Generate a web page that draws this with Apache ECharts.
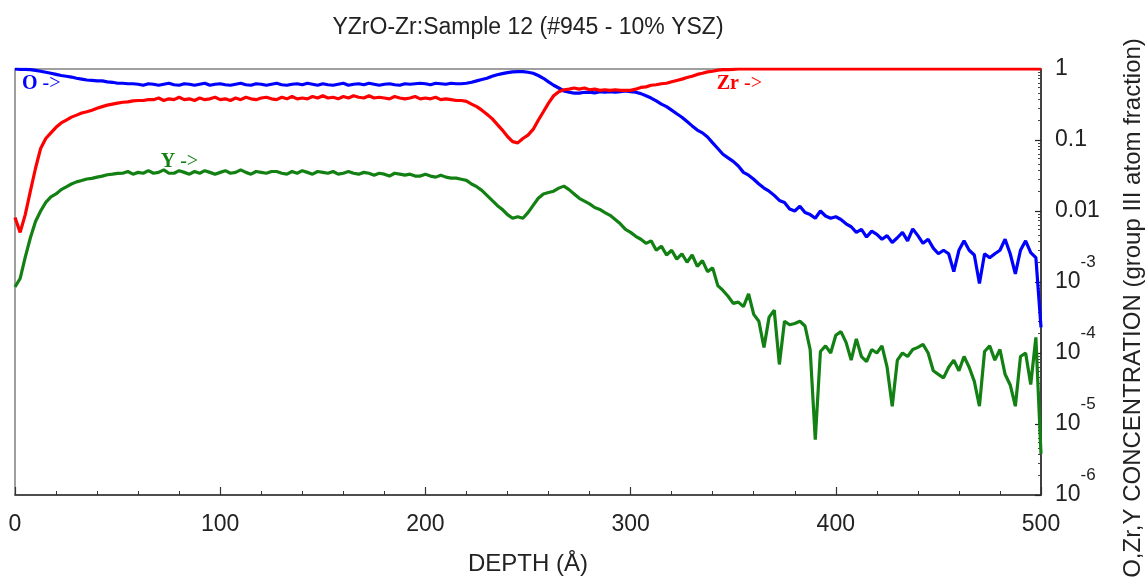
<!DOCTYPE html>
<html>
<head>
<meta charset="utf-8">
<script src="https://cdn.jsdelivr.net/npm/echarts@6/dist/echarts.min.js"></script>
<style>
html,body{margin:0;padding:0;background:#fff;}
#chart{width:1146px;height:582px;}
</style>
</head>
<body>
<div id="chart"></div>
<script>
// ---- data (depth grid: 0..500 Å every 2.5 Å) ----
const depthStep = 2.5;
const xTicks = [0, 100, 200, 300, 400, 500];
const titleText = 'YZrO-Zr:Sample 12 (#945 - 10% YSZ)';
const xName = 'DEPTH (\u00C5)';
const yName = 'O,Zr,Y CONCENTRATION (group III atom fraction)';

// O atom fraction
const oValues = [
1.0,0.99,0.99,0.98,0.955,0.93,0.90,0.87,0.84,0.81,0.79,0.77,0.74,0.72,0.70,0.69,0.68,0.68,0.66,0.65,0.63,0.63,0.62,0.62,
0.61,0.59,0.62,0.61,0.59,0.61,0.63,0.60,
0.59,0.62,0.61,0.59,0.61,0.63,0.59,0.61,
0.62,0.60,0.59,0.61,0.63,0.60,0.59,0.62,
0.61,0.59,0.61,0.63,0.60,0.59,0.61,0.62,
0.60,0.63,0.61,0.59,0.62,0.60,0.59,0.61,
0.63,0.59,0.61,0.62,0.60,0.63,0.61,0.59,
0.61,0.62,0.60,0.59,0.62,0.61,0.62,0.63,
0.62,0.60,0.63,0.62,0.61,0.63,0.62,0.62,
0.63,0.65,0.68,0.71,0.74,0.79,0.83,0.86,0.89,0.91,
0.92,0.92,0.90,0.87,0.81,0.74,0.66,0.59,0.54,0.49,
0.47,0.457,0.457,0.47,0.47,0.46,0.48,0.47,0.48,0.47,
0.48,0.49,0.48,0.47,0.45,0.42,0.39,0.355,0.32,0.295,
0.263,0.234,0.209,0.182,0.158,0.138,0.126,0.11,0.091,0.076,
0.063,0.056,0.050,0.043,0.035,0.032,0.028,0.024,0.021,0.019,
0.0166,0.0141,0.0132,0.0107,0.0100,0.0117,0.0095,0.0089,0.0079,0.0100,
0.0085,0.0079,0.0083,0.0076,0.0066,0.0060,0.0050,0.0055,0.0043,0.0052,
0.0047,0.0040,0.0045,0.0036,0.0042,0.0050,0.0038,0.0056,0.0045,0.0035,
0.0040,0.0030,0.0025,0.0028,0.0025,0.0014,0.0028,0.0038,0.0028,0.0024,
0.00095,0.0025,0.0022,0.0025,0.0028,0.0040,0.0025,0.0013,0.0028,0.0038,
0.0026,0.0022,0.00023
];

// Zr atom fraction
const zrValues = [
0.0081,0.0050,0.0089,0.019,0.040,0.076,0.105,0.126,0.151,0.174,
0.19,0.21,0.224,0.24,0.25,0.263,0.28,0.295,0.31,0.32,
0.33,0.34,0.345,0.355,0.36,0.36,0.37,
0.37,0.39,0.36,0.38,0.37,0.40,0.37,0.38,0.36,0.39,
0.37,0.38,0.40,0.37,0.38,0.36,0.39,0.37,0.40,0.38,
0.37,0.39,0.40,0.38,0.37,0.40,0.38,0.41,0.38,0.39,
0.38,0.41,0.39,0.42,0.39,0.40,0.38,0.41,0.39,0.42,
0.40,0.39,0.42,0.39,0.40,0.39,0.38,0.41,0.39,0.38,
0.39,0.41,0.38,0.39,0.38,0.40,0.37,0.38,0.37,0.36,
0.36,0.35,0.32,0.295,0.263,0.23,0.2,0.166,0.138,0.112,
0.095,0.091,0.105,0.117,0.141,0.19,0.25,0.33,0.42,0.48,
0.51,0.52,0.54,0.52,0.54,0.51,0.52,0.50,0.51,0.50,
0.51,0.50,0.50,0.50,0.52,0.55,0.56,0.59,0.60,0.62,
0.63,0.66,0.69,0.72,0.76,0.79,0.84,0.87,0.91,0.93,
0.965,0.98,0.98,0.99,1.0,
1,1,1,1,1,1,1,1,1,1,
1,1,1,1,1,1,1,1,1,1,
1,1,1,1,1,1,1,1,1,1,
1,1,1,1,1,1,1,1,1,1,
1,1,1,1,1,1,1,1,1,1,
1,1,1,1,1,1,1,1,1
];

// Y atom fraction
const yValues = [
0.00085,0.00112,0.00224,0.0042,0.0071,0.0100,0.0132,0.0158,0.0174,0.020,
0.0219,0.024,0.0257,0.0269,0.0282,0.0288,0.030,0.031,0.0324,0.0331,0.0339,
0.034,0.036,0.033,0.035,0.034,0.037,0.034,0.035,0.038,0.034,
0.034,0.037,0.035,0.033,0.036,0.034,0.037,0.035,0.033,0.035,
0.037,0.034,0.035,0.038,0.035,0.033,0.036,0.035,0.034,0.036,
0.036,0.034,0.033,0.036,0.034,0.037,0.035,0.033,0.036,0.035,
0.034,0.036,0.033,0.034,0.036,0.034,0.033,0.035,0.034,0.032,
0.034,0.033,0.031,0.034,0.033,0.032,0.033,0.031,0.031,0.033,
0.031,0.030,0.032,0.030,0.029,0.029,
0.028,0.027,0.024,0.022,0.0195,0.0166,0.0141,0.012,0.0105,0.0089,
0.0079,0.0083,0.0079,0.0095,0.012,0.0151,0.0174,0.0182,0.019,0.021,
0.0224,0.020,0.0174,0.0151,0.0138,0.0126,0.0112,0.0105,0.0095,0.0087,
0.0076,0.0066,0.0055,0.0050,0.0044,0.0040,0.0035,0.0038,0.0028,0.0032,
0.0024,0.0028,0.0021,0.0025,0.0019,0.0024,0.00166,0.0020,0.0014,0.00158,
0.00089,0.00076,0.00063,0.0005,0.00052,0.00045,0.00068,0.00035,0.00028,0.00012,
0.00032,0.0004,0.000069,0.00028,0.00025,0.00026,0.00028,0.00024,0.000112,0.000006,
0.000105,0.000126,0.0001,0.000178,0.0002,0.000141,0.0000794,0.000158,0.0000891,0.0000759,
0.000112,0.0001,0.000126,0.000063,0.0000178,0.0000794,0.0001,0.0000891,0.000112,0.00012,
0.000132,0.0001,0.0000562,0.0000501,0.0000447,0.000063,0.0000794,0.0000562,0.0000891,0.000063,
0.0000398,0.0000178,0.000105,0.000126,0.0000794,0.000112,0.0000501,0.0000355,0.0000178,0.0000891,
0.0001,0.000036,0.000166,0.0000038
];

// in-plot element labels: [text, depth, fraction]
const elementLabels = {
  O:  ['O', 3.4, 0.625],
  Zr: ['Zr', 342, 0.615],
  Y:  ['Y', 71, 0.05]
};

const colors = { O: '#0000ff', Zr: '#ff0000', Y: '#128012' };

function toPairs(vals) {
  return vals.map((v, i) => [i * depthStep, v]);
}

const FONT = '"Liberation Sans", Arial, sans-serif';
const SERIF = '"Liberation Serif", "Times New Roman", serif';

function labelMark(key) {
  const l = elementLabels[key];
  return {
    silent: true,
    symbol: 'circle',
    symbolSize: 0,
    animation: false,
    data: [{ coord: [l[1], l[2]] }],
    label: {
      show: true,
      position: 'right',
      distance: 0,
      formatter: '{b|' + l[0] + '}{n| ->}',
      rich: {
        b: { fontFamily: SERIF, fontWeight: 'bold', fontSize: 20, color: colors[key] },
        n: { fontFamily: SERIF, fontSize: 20, color: colors[key] }
      }
    }
  };
}

function makeSeries(name, vals) {
  return {
    name: name,
    type: 'line',
    data: toPairs(vals),
    showSymbol: false,
    symbol: 'none',
    smooth: false,
    animation: false,
    lineStyle: { color: colors[name], width: 3.2 },
    itemStyle: { color: colors[name] },
    markPoint: labelMark(name),
    z: 3
  };
}

const chart = echarts.init(document.getElementById('chart'), null, { renderer: 'canvas' });

const gridL = 15, gridR = 105, gridT = 69, gridB = 87;

chart.setOption({
  animation: false,
  backgroundColor: '#fff',
  textStyle: { fontFamily: FONT },
  grid: {
    left: gridL, right: gridR, top: gridT, bottom: gridB,
    show: true, borderColor: '#808080', borderWidth: 1.5,
    containLabel: false, outerBoundsMode: 'none'
  },
  graphic: [
    {
      type: 'text', x: (gridL + 1146 - gridR) / 2, y: 28, silent: true,
      style: { text: titleText, font: '23px ' + FONT, fill: '#222', align: 'center', verticalAlign: 'middle', textAlign: 'center', textVerticalAlign: 'middle' }
    },
    {
      type: 'text', x: 1133, y: 308, rotation: Math.PI / 2, silent: true,
      style: { text: yName, font: '24px ' + FONT, fill: '#222', align: 'center', verticalAlign: 'middle', textAlign: 'center', textVerticalAlign: 'middle' }
    }
  ],
  xAxis: {
    type: 'value',
    min: xTicks[0], max: xTicks[xTicks.length - 1], interval: xTicks[1] - xTicks[0],
    position: 'bottom',
    name: xName, nameLocation: 'middle', nameGap: 57,
    nameTextStyle: { fontSize: 24, color: '#222', fontFamily: FONT },
    axisLine: { show: true, onZero: false, lineStyle: { color: '#333', width: 1.5 } },
    axisTick: { show: true, inside: true, length: 8, lineStyle: { color: '#333', width: 1.2 } },
    minorTick: { show: true, splitNumber: 5, length: 4, lineStyle: { color: '#333', width: 1 } },
    splitLine: { show: false },
    minorSplitLine: { show: false },
    axisLabel: { fontSize: 23, color: '#222', margin: 18, fontFamily: FONT }
  },
  yAxis: {
    type: 'log', logBase: 10, min: 1e-6, max: 1,
    position: 'right',
    axisLine: { show: true, onZero: false, lineStyle: { color: '#222', width: 1.5 } },
    axisTick: { show: true, inside: true, length: 6, lineStyle: { color: '#222', width: 1.2 } },
    minorTick: { show: true, splitNumber: 10, length: 3, lineStyle: { color: '#444', width: 1 } },
    splitLine: { show: false },
    minorSplitLine: { show: false },
    axisLabel: {
      margin: 14,
      color: '#222',
      formatter: function (v) {
        const e = Math.round(Math.log10(v));
        if (e >= -2) return '{b|' + (e === 0 ? '1' : (e === -1 ? '0.1' : '0.01')) + '}';
        return '{b|10}{s|' + e + '}';
      },
      rich: {
        b: { fontSize: 23, lineHeight: 56, verticalAlign: 'middle', color: '#222', fontFamily: FONT },
        s: { fontSize: 17, lineHeight: 17, verticalAlign: 'top', color: '#222', fontFamily: FONT }
      }
    }
  },
  series: [
    makeSeries('O', oValues),
    makeSeries('Y', yValues),
    makeSeries('Zr', zrValues)
  ]
});
</script>
</body>
</html>
